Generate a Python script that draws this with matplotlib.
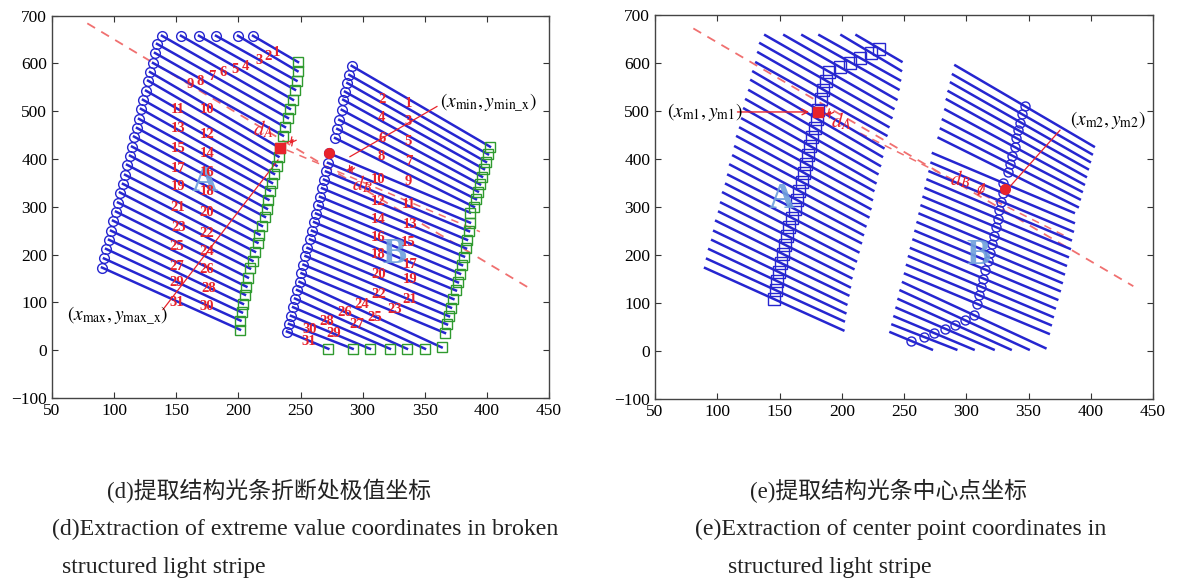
import numpy as np
import matplotlib
matplotlib.use("Agg")
import matplotlib.pyplot as plt

plt.rcParams['font.family'] = ['Liberation Serif', 'Noto Sans CJK SC', 'DejaVu Sans']
plt.rcParams['mathtext.fontset'] = 'stix'

# stripe group A: start (left/top) and end (right) of each of the 31 light stripes
A_x0 = [211.8, 199.7, 182.0, 168.3, 153.8, 138.5, 134.5, 132.9, 131.3, 128.9, 127.3, 125.7, 123.2, 121.6, 120.0, 118.4,
        116.0, 114.4, 112.8, 110.4, 108.8, 107.1, 104.7, 103.1, 101.5, 99.1, 97.5, 95.9, 93.5, 91.8, 90.2]
A_y0 = [658, 658, 658, 658, 658, 658, 641, 622, 601, 582, 564, 543, 524, 505, 484, 465,
        447, 426, 407, 388, 367, 348, 330, 309, 290, 271, 250, 231, 212, 192, 173]
A_x1 = [248.0, 247.6, 246.8, 245.6, 244.0, 241.5, 239.9, 237.5, 235.9, 233.5, 232.3, 230.7, 228.7, 227.1, 225.4, 224.2,
        223.0, 221.4, 219.0, 217.0, 215.4, 213.4, 211.4, 209.4, 207.7, 206.5, 205.3, 203.7, 202.9, 201.7, 201.3]
A_y1 = [603, 584, 564, 545, 524, 505, 486, 467, 449, 423, 405, 386, 369, 350, 334, 315,
        296, 279, 260, 242, 225, 206, 187, 171, 152, 133, 116, 97, 79, 62, 43]

# stripe group B
B_x0 = [291.2, 289.3, 287.7, 285.8, 284.4, 283.2, 281.2, 279.6, 277.8, 273.2, 272.1, 270.5, 268.9, 267.3, 265.7, 264.1,
        262.5, 260.9, 259.2, 257.6, 255.6, 254.0, 252.4, 250.8, 249.2, 247.2, 245.6, 244.0, 242.3, 240.7, 239.1]
B_y0 = [595, 576, 559, 541, 524, 503, 482, 463, 444, 412, 392, 374, 357, 339, 321, 303,
        286, 268, 250, 232, 214, 197, 179, 161, 143, 126, 108, 90, 72, 55, 39]
B_x1 = [402.5, 400.9, 399.3, 397.7, 396.1, 394.5, 392.8, 391.2, 389.6, 386.4, 386.4, 385.6, 384.0, 383.2, 381.6, 380.0,
        378.4, 376.7, 375.1, 373.1, 371.1, 369.5, 367.9, 366.3, 363.6, 350.2, 335.7, 322.0, 305.9, 292.0, 272.4]
B_y1 = [426, 410, 394, 379, 363, 347, 332, 316, 300, 288, 267, 249, 231, 213, 196, 178,
        160, 142, 125, 107, 89, 71, 54, 36, 6, 3, 3, 3, 3, 3, 3]

# centre points of each stripe (panel e)
Am_x = [229.9, 223.6, 214.4, 207.0, 198.9, 190.0, 187.2, 185.2, 183.6, 181.2, 179.8, 178.2, 176.0, 174.3, 172.7, 171.3,
        169.5, 167.9, 165.9, 163.7, 162.1, 160.2, 158.0, 156.2, 154.6, 152.8, 151.4, 149.8, 148.2, 146.8, 145.8]
Am_y = [630, 621, 611, 601, 591, 581, 563, 544, 525, 502, 484, 464, 446, 427, 409, 390,
        371, 352, 333, 315, 296, 277, 258, 240, 221, 202, 183, 164, 145, 127, 108]
Bm_x = [346.8, 345.1, 343.5, 341.8, 340.2, 338.8, 337.0, 335.4, 333.7, 329.8, 329.2, 328.0, 326.4, 325.2, 323.6, 322.0,
        320.4, 318.8, 317.2, 315.4, 313.4, 311.8, 310.2, 308.6, 306.4, 298.7, 290.6, 283.0, 274.1, 266.4, 255.8]
Bm_y = [510, 493, 476, 460, 443, 425, 407, 389, 372, 350, 329, 311, 294, 276, 258, 240,
        223, 205, 187, 169, 151, 134, 116, 98, 74, 64, 55, 46, 37, 29, 21]

# stripe number labels (panel d)
A_lab_x = [230.8, 224.1, 216.8, 205.3, 197.3, 187.9, 178.5, 169.1, 161.1, 174.5, 151.6, 174.5, 151.6, 174.5, 151.6, 174.5,
           151.6, 174.5, 151.6, 174.5, 151.6, 174.5, 151.6, 174.5, 150.4, 174.5, 150.4, 175.8, 150.4, 174.5, 150.4]
A_lab_y = [623, 614, 606, 593, 588, 581, 572, 562, 555, 504, 504, 451, 465, 412, 423, 371,
           381, 332, 343, 289, 299, 245, 256, 207, 217, 168, 175, 130, 141, 92, 99]
B_lab_x = [336.8, 315.3, 336.8, 315.3, 336.8, 315.3, 336.8, 315.3, 336.8, 312.6, 336.8, 312.6, 338.1, 312.6, 336.8, 312.6,
           338.1, 312.6, 338.1, 312.6, 338.1, 312.6, 326.0, 299.2, 310.0, 285.8, 295.2, 271.1, 276.4, 257.6, 256.3]
B_lab_y = [517, 525, 479, 486, 437, 444, 395, 405, 353, 357, 304, 311, 263, 273, 226, 235,
           179, 200, 148, 158, 106, 116, 85, 95, 68, 78, 54, 61, 36, 43, 19]

# guide lines
dash_d = ([78.4, 436.0], [684, 127])
dash2_d = ([238.9, 394.4], [419, 248])
dash_e = ([80.8, 434.2], [672, 135])
dash2_e = ([214.7, 380.7], [454, 238])
maxpt_d = (233.5, 423)     # red square, panel d
minpt_d = (273.2, 412)     # red circle, panel d
m1 = (181.2, 498)          # red square, panel e
m2 = (331.5, 338)          # red circle, panel e

blue = '#2626d0'
green = '#2f9a2f'
red = '#e8232b'
dred = '#f07070'
lblue = '#6fa0dc'

fig = plt.figure(figsize=(11.77, 5.81), dpi=100)
ax1 = fig.add_axes([52 / 1177, 1 - 398 / 581, 497 / 1177, 382.3 / 581])
ax2 = fig.add_axes([655 / 1177, 1 - 399 / 581, 498 / 1177, 384 / 581])

for ax in (ax1, ax2):
    for i in range(31):
        ax.plot([A_x0[i], A_x1[i]], [A_y0[i], A_y1[i]], color=blue, lw=1.8, zorder=2)
        ax.plot([B_x0[i], B_x1[i]], [B_y0[i], B_y1[i]], color=blue, lw=1.8, zorder=2)
    ax.set_xlim(50, 450)
    ax.set_ylim(-100, 700)
    ax.set_xticks(np.arange(50, 451, 50))
    ax.set_yticks(np.arange(-100, 701, 100))
    ax.tick_params(direction='in', top=True, right=True, length=4, labelsize=12.5, color='#333333')
    for s in ax.spines.values():
        s.set_color('#444444')
        s.set_linewidth(1.0)

# ---- panel (d)
ax1.plot(dash_d[0], dash_d[1], color=dred, lw=1.3, dashes=(5, 4), zorder=1)
ax1.plot(dash2_d[0], dash2_d[1], color=dred, lw=1.1, dashes=(5, 4), zorder=1)
ax1.plot(A_x0, A_y0, 'o', mfc='none', mec=blue, ms=7, mew=1.0, zorder=3)
ax1.plot(B_x0, B_y0, 'o', mfc='none', mec=blue, ms=7, mew=1.0, zorder=3)
ax1.plot(A_x1, A_y1, 's', mfc='none', mec=green, ms=7, mew=1.0, zorder=3)
ax1.plot(B_x1, B_y1, 's', mfc='none', mec=green, ms=7, mew=1.0, zorder=3)
ax1.plot(*maxpt_d, 's', color=red, ms=7, zorder=4)
ax1.plot(*minpt_d, 'o', color=red, ms=7, zorder=4)
for i in range(31):
    ax1.text(A_lab_x[i], A_lab_y[i], str(i + 1), color=red, fontsize=10.5, fontweight='bold', ha='center', va='center', zorder=5)
    ax1.text(B_lab_x[i], B_lab_y[i], str(i + 1), color=red, fontsize=10.5, fontweight='bold', ha='center', va='center', zorder=5)
ax1.plot([139.3, 231.9], [85, 398], color=red, lw=0.9)
ax1.plot([359.8, 289.8], [510, 405], color=red, lw=0.9)
ax1.annotate('', xy=(246, 447), xytext=(240, 427), arrowprops=dict(arrowstyle='<->', color=red, lw=0.9))
ax1.annotate('', xy=(293, 392), xytext=(288, 366), arrowprops=dict(arrowstyle='<->', color=red, lw=0.9))
ax1.text(61.8, 71, r'$(x_{\rm max},y_{\rm max\_x})$', fontsize=14, va='center', ha='left')
ax1.text(362, 517, r'$(x_{\rm min},y_{\rm min\_x})$', fontsize=14, va='center', ha='left')
ax1.text(220, 461, r'$d_A$', color=red, fontsize=15, fontweight='bold', ha='center', va='center')
ax1.text(300, 346, r'$d_B$', color=red, fontsize=15, fontweight='bold', ha='center', va='center')
ax1.text(173, 350, 'A', color=lblue, fontsize=26, fontweight='bold', ha='center', va='center', alpha=0.9)
ax1.text(326, 200, 'B', color=lblue, fontsize=26, fontweight='bold', ha='center', va='center', alpha=0.9)

# ---- panel (e)
ax2.plot(dash_e[0], dash_e[1], color=dred, lw=1.3, dashes=(5, 4), zorder=1)
ax2.plot(dash2_e[0], dash2_e[1], color=dred, lw=1.1, dashes=(5, 4), zorder=1)
ax2.plot(Am_x, Am_y, 's', mfc='none', mec=blue, ms=8, mew=1.0, zorder=3)
ax2.plot(Bm_x, Bm_y, 'o', mfc='none', mec=blue, ms=6.5, mew=1.0, zorder=3)
ax2.plot(*m1, 's', color=red, ms=7, zorder=4)
ax2.plot(*m2, 'o', color=red, ms=7, zorder=4)
ax2.annotate('', xy=(176, 498), xytext=(114, 498),
             arrowprops=dict(arrowstyle='->', color=red, lw=1.0))
ax2.annotate('', xy=(193, 505), xytext=(187, 485), arrowprops=dict(arrowstyle='<->', color=red, lw=0.9))
ax2.annotate('', xy=(316, 356), xytext=(308, 318), arrowprops=dict(arrowstyle='<->', color=red, lw=0.9))
ax2.text(59.6, 498, r'$(x_{\rm m1},y_{\rm m1})$', fontsize=14, va='center', ha='left')
ax2.plot([375.3, 332.5], [460, 335], color=red, lw=0.9)
ax2.text(383, 481, r'$(x_{\rm m2},y_{\rm m2})$', fontsize=14, va='center', ha='left')
ax2.text(200, 478, r'$d_A$', color=red, fontsize=15, fontweight='bold', ha='center', va='center')
ax2.text(295, 358, r'$d_B$', color=red, fontsize=15, fontweight='bold', ha='center', va='center')
ax2.text(152, 315, 'A', color=lblue, fontsize=26, fontweight='bold', ha='center', va='center', alpha=0.9)
ax2.text(310, 200, 'B', color=lblue, fontsize=26, fontweight='bold', ha='center', va='center', alpha=0.9)

# ---- captions
cap = dict(fontsize=17.2, color='#222222', va='center', ha='left')
capc = dict(fontsize=16.5, color='#222222', va='center', ha='left')
fig.text(107 / 1177, 1 - 491 / 581, '(d)提取结构光条折断处极值坐标', **capc)
fig.text(52 / 1177, 1 - 529 / 581, '(d)Extraction of extreme value coordinates in broken', **cap)
fig.text(62 / 1177, 1 - 567 / 581, 'structured light stripe', **cap)
fig.text(750 / 1177, 1 - 491 / 581, '(e)提取结构光条中心点坐标', **capc)
fig.text(695 / 1177, 1 - 529 / 581, '(e)Extraction of center point coordinates in', **cap)
fig.text(728 / 1177, 1 - 567 / 581, 'structured light stripe', **cap)

fig.savefig('out.png', dpi=100)
